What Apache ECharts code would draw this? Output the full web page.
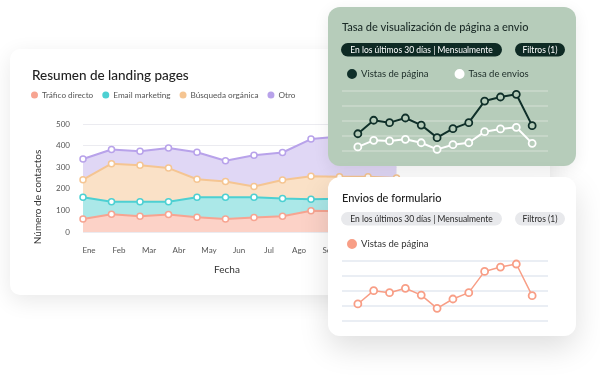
<!DOCTYPE html>
<html>
<head>
<meta charset="utf-8">
<script src="https://cdn.jsdelivr.net/npm/echarts@6/dist/echarts.min.js"></script>
<style>
body { margin: 0; background: #fff; width: 600px; height: 377px; overflow: hidden; position: relative; }
.card { position: absolute; border-radius: 12px; overflow: hidden; }
#main { left: 10px; top: 49px; width: 540px; height: 246px; background: #fff; border-radius: 10px; box-shadow: 0 6px 22px rgba(0,0,0,0.09); }
#rate { left: 328px; top: 7px; width: 248px; height: 159px; background: #b6ccba; box-shadow: 0 4px 16px rgba(0,0,0,0.08); }
#form { left: 328px; top: 177px; width: 248px; height: 159px; background: #fff; box-shadow: 0 12px 30px rgba(0,0,0,0.13); }
</style>
</head>
<body>
<div id="main" class="card"></div>
<div id="rate" class="card"></div>
<div id="form" class="card"></div>
<script>
var FONT = 'Lato';

// resumen de landing pages (valores apilados por capa)
var months = ['Ene', 'Feb', 'Mar', 'Abr', 'May', 'Jun', 'Jul', 'Ago', 'Sep', 'Oct', 'Nov', 'Dic'];
var trafico = [60, 82, 73, 81, 68, 60, 67, 73, 98, 96, 96, 95];
var email = [101, 58, 67, 59, 93, 101, 94, 82, 54, 58, 59, 55];
var busqueda = [81, 176, 169, 156, 83, 73, 50, 86, 106, 102, 101, 100];
var otro = [96, 66, 65, 93, 125, 96, 144, 127, 172, 186, 194, 195];
var yTicks = [0, 100, 200, 300, 400, 500];

// tasa de visualizacion de pagina a envio
var vistas = [113, 203, 187, 218, 171, 87, 147, 187, 331, 358, 376, 167];
var envios = [25, 69, 65, 76, 53, 9, 40, 53, 127, 145, 156, 49];

// envios de formulario
var formVistas = [113, 201, 188, 217, 172, 84, 146, 188, 329, 358, 378, 168];

var pillLabel = 'En los últimos 30 días | Mensualmente';
var filterLabel = 'Filtros (1)';

function pairs(arr) {
    return arr.map(function (v, i) { return [i, v]; });
}

function areaSeries(name, data, line, fill) {
    return {
        name: name,
        type: 'line',
        stack: 'total',
        data: data,
        symbol: 'circle',
        symbolSize: 6,
        lineStyle: { color: line, width: 2 },
        itemStyle: { color: '#fff', borderColor: line, borderWidth: 1.5 },
        areaStyle: { color: fill, opacity: 1 }
    };
}

var mainChart = echarts.init(document.getElementById('main'));
mainChart.setOption({
    textStyle: { fontFamily: FONT },
    animation: false,
    title: {
        text: 'Resumen de landing pages',
        left: 22, top: 20, padding: 0,
        textStyle: { fontFamily: FONT, fontSize: 13.5, fontWeight: 500, color: '#222' }
    },
    legend: {
        left: 21, top: 42, padding: 0,
        icon: 'circle', itemWidth: 5, itemHeight: 5, itemGap: 9,
        textStyle: { fontFamily: FONT, fontSize: 8.2, color: '#555' },
        data: [
            { name: 'Tráfico directo', itemStyle: { color: '#f7a491' } },
            { name: 'Email marketing', itemStyle: { color: '#4dd0d2' } },
            { name: 'Búsqueda orgánica', itemStyle: { color: '#f5c592' } },
            { name: 'Otro', itemStyle: { color: '#b8a2ea' } }
        ]
    },
    grid: [
        { left: 73, top: 75, width: 313.5, height: 108 },
        { left: 79, top: 75, width: 330, height: 108 }
    ],
    xAxis: [
        { gridIndex: 0, type: 'category', boundaryGap: false, data: months, show: false },
        {
            gridIndex: 1, type: 'category', boundaryGap: false, data: months,
            axisLine: { show: false }, axisTick: { show: false },
            axisLabel: { fontFamily: FONT, fontSize: 8, color: '#555', margin: 14 }
        }
    ],
    yAxis: [
        {
            gridIndex: 0, type: 'value', min: yTicks[0], max: yTicks[yTicks.length - 1], interval: 100,
            axisLine: { show: false }, axisTick: { show: false },
            axisLabel: { fontFamily: FONT, fontSize: 8, color: '#555', margin: 13 },
            splitLine: { lineStyle: { color: '#ebebf0', width: 1 } }
        },
        { gridIndex: 1, type: 'value', min: 0, max: 500, show: false, splitLine: { show: false } }
    ],
    graphic: [
        {
            type: 'text', x: 28, y: 148, rotation: Math.PI / 2,
            style: { text: 'Número de contactos', fontFamily: FONT, fontSize: 10, fill: '#333', align: 'center', verticalAlign: 'middle' }
        },
        {
            type: 'text', x: 217, y: 221,
            style: { text: 'Fecha', fontFamily: FONT, fontSize: 10, fill: '#333', align: 'center', verticalAlign: 'middle' }
        }
    ],
    series: [
        areaSeries('Tráfico directo', trafico, '#f7a491', '#fcd2c7'),
        areaSeries('Email marketing', email, '#4dd0d2', '#abe8e8'),
        areaSeries('Búsqueda orgánica', busqueda, '#f5c592', '#fae1c7'),
        areaSeries('Otro', otro, '#b8a2ea', '#e0d7f5')
    ]
});

function pills(y, bg, fg) {
    return [
        { type: 'rect', shape: { x: 13, y: y, width: 161, height: 13.5, r: 7 }, style: { fill: bg } },
        { type: 'text', x: 93.5, y: y + 7, style: { text: pillLabel, fontFamily: FONT, fontSize: 8.5, fill: fg, align: 'center', verticalAlign: 'middle' } },
        { type: 'rect', shape: { x: 187, y: y, width: 50, height: 13.5, r: 7 }, style: { fill: bg } },
        { type: 'text', x: 212, y: y + 7, style: { text: filterLabel, fontFamily: FONT, fontSize: 8.5, fill: fg, align: 'center', verticalAlign: 'middle' } }
    ];
}

function smallAxes(gridColor) {
    return {
        xAxis: { type: 'value', min: -1, max: 12, show: false },
        yAxis: {
            type: 'value', min: 0, max: 400, interval: 100,
            axisLine: { show: false }, axisTick: { show: false }, axisLabel: { show: false },
            splitLine: { lineStyle: { color: gridColor, width: 1.5 } }
        }
    };
}

function lineSeries(name, data, color, fill, width) {
    return {
        name: name,
        type: 'line',
        data: pairs(data),
        symbol: 'circle',
        symbolSize: 7,
        lineStyle: { color: color, width: width },
        itemStyle: { color: fill, borderColor: color, borderWidth: 1.8 }
    };
}

var GREEN = '#b6ccba';
var DARK = '#10302a';
var rateAxes = smallAxes('#cbdacd');
var rateChart = echarts.init(document.getElementById('rate'));
rateChart.setOption({
    animation: false,
    textStyle: { fontFamily: FONT },
    legend: {
        left: 19, top: 62, padding: 0,
        icon: 'circle', itemWidth: 8, itemHeight: 8, itemGap: 26,
        textStyle: { fontFamily: FONT, fontSize: 9.5, color: '#1b2b27' },
        data: [
            { name: 'Vistas de página', itemStyle: { color: DARK } },
            { name: 'Tasa de envios', itemStyle: { color: '#ffffff' } }
        ]
    },
    grid: { left: 14, top: 83.7, width: 206, height: 60 },
    xAxis: rateAxes.xAxis,
    yAxis: rateAxes.yAxis,
    graphic: [
        {
            type: 'text', x: 14, y: 20,
            style: { text: 'Tasa de visualización de página a envio', fontFamily: FONT, fontSize: 11, fontWeight: 500, fill: '#1b2b27', verticalAlign: 'middle' }
        }
    ].concat(pills(36, '#0e2a24', '#ffffff')),
    series: [
        lineSeries('Vistas de página', vistas, DARK, GREEN, 2),
        lineSeries('Tasa de envios', envios, '#ffffff', GREEN, 2)
    ]
});

var formAxes = smallAxes('#e3e8f0');
var formChart = echarts.init(document.getElementById('form'));
formChart.setOption({
    animation: false,
    textStyle: { fontFamily: FONT },
    legend: {
        left: 19, top: 62, padding: 0,
        icon: 'circle', itemWidth: 8, itemHeight: 8,
        textStyle: { fontFamily: FONT, fontSize: 9.5, color: '#333' },
        data: [{ name: 'Vistas de página', itemStyle: { color: '#f89e86' } }]
    },
    grid: { left: 14, top: 83.7, width: 206, height: 60.3 },
    xAxis: formAxes.xAxis,
    yAxis: formAxes.yAxis,
    graphic: [
        {
            type: 'text', x: 14, y: 21,
            style: { text: 'Envios de formulario', fontFamily: FONT, fontSize: 11, fontWeight: 500, fill: '#222', verticalAlign: 'middle' }
        }
    ].concat(pills(35, '#e8e9ec', '#2a2a2a')),
    series: [
        lineSeries('Vistas de página', formVistas, '#f89e86', '#ffffff', 1.5)
    ]
});
</script>
</body>
</html>
